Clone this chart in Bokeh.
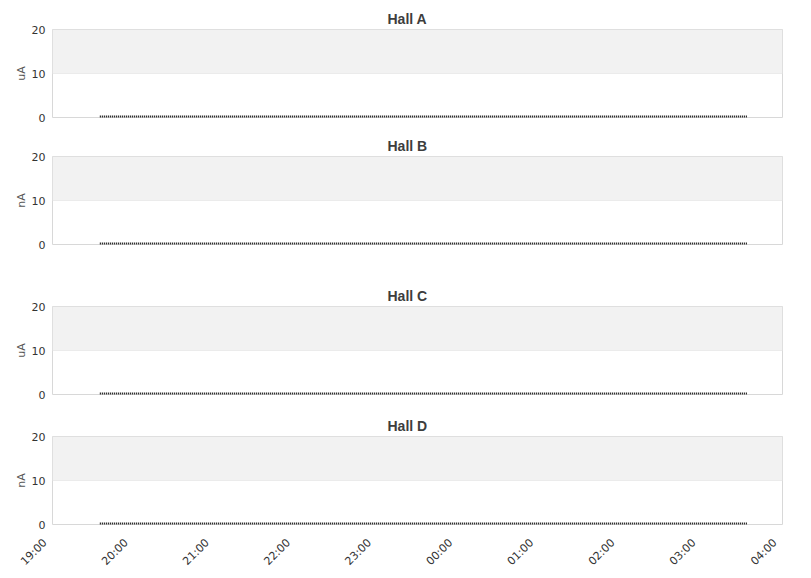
import math
import pandas as pd
from bokeh.plotting import figure
from bokeh.layouts import column
from bokeh.models import BoxAnnotation, FixedTicker, Range1d
from bokeh.embed import file_html
from bokeh.resources import INLINE

# ---- data ----
halls = ["Hall A", "Hall B", "Hall C", "Hall D"]
units = ["uA", "nA", "uA", "nA"]
x_start = "2024-01-01 19:00"
x_end = "2024-01-02 04:00"
data_times = ["2024-01-01 19:35", "2024-01-02 03:34"]
current_a = [0, 0]
current_b = [0, 0]
current_c = [0, 0]
current_d = [0, 0]
series = [current_a, current_b, current_c, current_d]
y_ticks = [0, 10, 20]
tick_times = ["2024-01-01 19:00", "2024-01-01 20:00", "2024-01-01 21:00",
              "2024-01-01 22:00", "2024-01-01 23:00", "2024-01-02 00:00",
              "2024-01-02 01:00", "2024-01-02 02:00", "2024-01-02 03:00",
              "2024-01-02 04:00"]
tick_labels = ["19:00", "20:00", "21:00", "22:00", "23:00",
               "00:00", "01:00", "02:00", "03:00", "04:00"]

# ---- layout ----
W = 803
borders_top = [29, 24, 24, 24]
borders_bottom = [15, 38, 18, 54]
FRAME_H = 88
PAD = "\u00a0" * 3

t = pd.to_datetime(data_times)
tick_ms = [int(ts.value // 10**6) for ts in pd.to_datetime(tick_times)]
xr = Range1d(pd.Timestamp(x_start), pd.Timestamp(x_end))
figs = []
for i, (name, unit, vals) in enumerate(zip(halls, units, series)):
    h = borders_top[i] + FRAME_H + borders_bottom[i]
    p = figure(width=W, height=h, x_axis_type="datetime", x_range=xr,
               y_range=Range1d(0, 20), output_backend="svg", toolbar_location=None,
               min_border_left=52, min_border_right=21, min_border_top=borders_top[i],
               min_border_bottom=borders_bottom[i])
    p.title.text = name
    p.title.align = "left"
    p.title.offset = 335
    p.title.standoff = 6
    p.title.text_font = "Liberation Sans"
    p.title.text_font_size = "14px"
    p.title.text_font_style = "bold"
    p.title.text_color = "#3d3d3d"
    p.outline_line_color = "#d8d8d8"
    p.background_fill_color = "white"
    p.add_layout(BoxAnnotation(bottom=10, top=20, fill_color="#f2f2f2", fill_alpha=1,
                               line_color=None, level="underlay"))
    p.xgrid.grid_line_color = None
    p.ygrid.grid_line_color = "#e4e4e4"
    p.ygrid.ticker = FixedTicker(ticks=y_ticks)
    p.yaxis.ticker = FixedTicker(ticks=y_ticks)
    p.yaxis.axis_label = unit
    p.yaxis.axis_label_text_font = "DejaVu Sans"
    p.yaxis.axis_label_text_font_size = "11px"
    p.yaxis.axis_label_text_font_style = "normal"
    p.yaxis.axis_label_text_color = "#555555"
    p.yaxis.axis_label_standoff = 1
    p.yaxis.major_label_text_font = "DejaVu Sans"
    p.yaxis.major_label_text_font_size = "11px"
    p.yaxis.major_label_text_color = "#333333"
    p.yaxis.major_label_standoff = 7
    for ax in (p.xaxis[0], p.yaxis[0]):
        ax.axis_line_color = None
        ax.major_tick_line_color = None
        ax.minor_tick_line_color = None
        ax.major_tick_out = 0
        ax.major_tick_in = 0
        ax.minor_tick_out = 0
    if i < 3:
        p.xaxis.visible = False
    else:
        p.xaxis.ticker = FixedTicker(ticks=tick_ms)
        p.xaxis.major_label_overrides = {ms: lab + PAD for ms, lab in zip(tick_ms, tick_labels)}
        p.xaxis.major_label_orientation = math.pi / 4
        p.xaxis.major_label_text_font = "DejaVu Sans"
        p.xaxis.major_label_text_font_size = "11px"
        p.xaxis.major_label_text_color = "#333333"
        p.xaxis.major_label_standoff = 9
    p.line(t, vals, line_color="black", line_width=4, line_dash="1 1")
    figs.append(p)

layout = column(*figs, spacing=0)
open("out.html", "w").write(file_html(layout, INLINE))
